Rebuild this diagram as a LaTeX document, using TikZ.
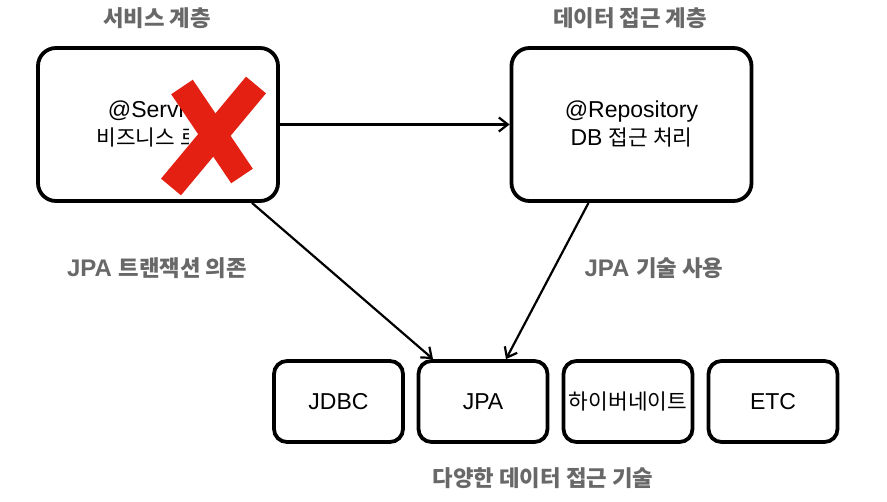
\documentclass[tikz,border=0pt]{standalone}
\usepackage{fontspec}
\setmainfont{Liberation Sans}
\newfontfamily\kr{Noto Sans CJK KR}[Scale=0.93]
\usetikzlibrary{arrows.meta}
\definecolor{labelgray}{RGB}{104,104,104}
\definecolor{xred}{RGB}{228,32,18}

\begin{document}
\begin{tikzpicture}[x=1pt,y=-1pt,
    layer/.style={draw,line width=3.8pt,rounded corners=18pt,minimum width=240pt,minimum height=153pt,align=center,font=\fontsize{23}{28}\selectfont},
    tech/.style={draw,line width=3.8pt,rounded corners=13pt,minimum width=129pt,minimum height=81pt,font=\fontsize{23}{28}\selectfont},
    caption/.style={text=labelgray,font=\fontsize{24}{29}\selectfont\bfseries},
    link/.style={-{Straight Barb[length=9pt,width=14pt]},line width=2.2pt}]
  \useasboundingbox (0,0) rectangle (887,502);

  \node [layer] (svc) at (158,124.5) {@Service\\{\kr 비즈니스 로직}};
  \node [layer] (repo) at (631.5,124.5) {@Repository\\DB {\kr 접근 처리}};
  \node [caption] (svct) at (157,18) {\kr 서비스 계층};
  \node [caption] (repot) at (630,18) {\kr 데이터 접근 계층};

  \node [tech] (jdbc) at (338.5,401.5) {JDBC};
  \node [tech] (jpa) at (483,401.5) {JPA};
  \node [tech] (hib) at (628,401.5) {\kr 하이버네이트};
  \node [tech] (etc) at (773,401.5) {ETC};
  \node [caption] (techt) at (543,478) {\kr 다양한 데이터 접근 기술};

  \node [caption] (txt) at (157,268) {JPA {\kr 트랜잭션 의존}};
  \node [caption] (uset) at (654,268) {JPA {\kr 기술 사용}};

  % crossed out
  \fill [white] (183,74) -- (266,74) -- (266,196) -- (189,196) -- (189,125) -- (183,125) -- cycle;
  \draw [xred,line width=26pt] (182,87) -- (242,176);
  \draw [xred,line width=26pt] (256,85) -- (171,187);

  \draw [link] (svc) -- (repo);
  \draw [link] ([xshift=94pt]svc.south) -- ([xshift=-50pt]jpa.north);
  \draw [link] ([xshift=-43pt]repo.south) -- ([xshift=23pt]jpa.north);
\end{tikzpicture}
\end{document}
